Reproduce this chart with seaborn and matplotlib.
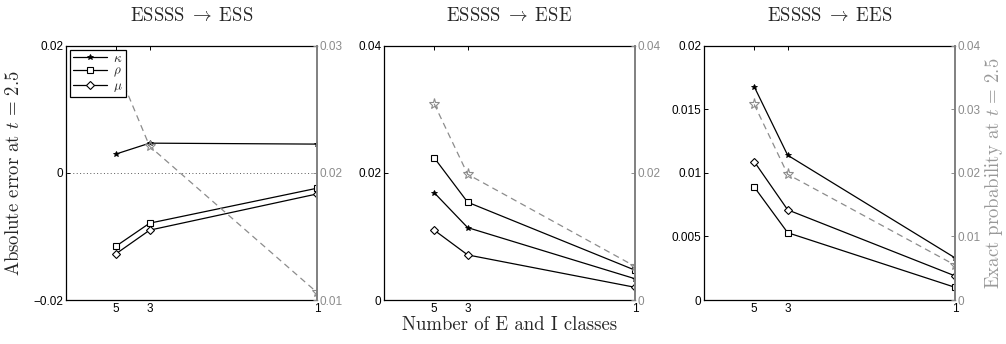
import numpy as np
import pandas as pd
import matplotlib
matplotlib.use("Agg")
import matplotlib.pyplot as plt
import seaborn as sns

# Number of E and I classes used in each reduced model
n_classes = [5, 3, 1]

titles = [r"ESSSS$\;\rightarrow\;$ESS", r"ESSSS$\;\rightarrow\;$ESE",
          r"ESSSS$\;\rightarrow\;$EES"]

# Absolute error at t = 2.5 for each approximation (one list per panel)
kappa_err = [[0.0030, 0.0047, 0.00455],
             [0.0169, 0.0114, 0.00335],
             [0.0168, 0.0114, 0.00332]]
rho_err = [[-0.0115, -0.0079, -0.0024],
           [0.0224, 0.0154, 0.0047],
           [0.0089, 0.0053, 0.0010]]
mu_err = [[-0.0127, -0.0090, -0.0033],
          [0.0110, 0.0071, 0.0020],
          [0.0109, 0.0071, 0.0019]]

# Exact probability at t = 2.5 (right axis)
exact_prob = [[0.0284, 0.0221, 0.0106],
              [0.0309, 0.0198, 0.0053],
              [0.0308, 0.0198, 0.0055]]

left_ylim = [(-0.02, 0.02), (0.0, 0.04), (0.0, 0.02)]
left_yticks = [[-0.02, 0.0, 0.02],
               [0.0, 0.02, 0.04],
               [0.0, 0.005, 0.01, 0.015, 0.02]]
left_yticklabels = [["\u22120.02", "0", "0.02"],
                    ["0", "0.02", "0.04"],
                    ["0", "0.005", "0.01", "0.015", "0.02"]]
right_ylim = [(0.01, 0.03), (0.0, 0.04), (0.0, 0.04)]
right_yticks = [[0.01, 0.02, 0.03],
                [0.0, 0.02, 0.04],
                [0.0, 0.01, 0.02, 0.03, 0.04]]
right_yticklabels = [["0.01", "0.02", "0.03"],
                     ["0", "0.02", "0.04"],
                     ["0", "0.01", "0.02", "0.03", "0.04"]]
xticklabels = ["5", "3", "1"]

sns.set_style("white")
plt.rcParams["mathtext.fontset"] = "cm"
plt.rcParams["font.family"] = ["cmr10", "DejaVu Serif"]
plt.rcParams["axes.unicode_minus"] = False

TICK_FONT = "Liberation Sans"
GREY = "0.55"
LABEL_SIZE = 13.5

fig = plt.figure(figsize=(10.06, 3.44), dpi=100)
lefts = [0.0656, 0.3817, 0.6998]
width, bottom, height = 0.2495, 0.1279, 0.7384

for i in range(3):
    ax = fig.add_axes([lefts[i], bottom, width, height])
    df = pd.DataFrame({
        "n": n_classes,
        "x": [1.0 / n for n in n_classes],
        "kappa": kappa_err[i],
        "rho": rho_err[i],
        "mu": mu_err[i],
        "exact": exact_prob[i],
    })

    if i == 0:
        ax.axhline(0, color="0.35", ls=(0, (1, 2.5)), lw=0.7, zorder=1)

    sns.lineplot(data=df, x="x", y="kappa", ax=ax, color="k", lw=0.9,
                 marker="*", markersize=4, markerfacecolor="k",
                 markeredgecolor="k", markeredgewidth=0.6, label=r"$\kappa$")
    sns.lineplot(data=df, x="x", y="rho", ax=ax, color="k", lw=0.9,
                 marker="s", markersize=4.2, markerfacecolor="white",
                 markeredgecolor="k", markeredgewidth=0.8, label=r"$\rho$")
    sns.lineplot(data=df, x="x", y="mu", ax=ax, color="k", lw=0.9,
                 marker="D", markersize=4.2, markerfacecolor="white",
                 markeredgecolor="k", markeredgewidth=0.8, label=r"$\mu$")
    handles, labels = ax.get_legend_handles_labels()
    if ax.get_legend() is not None:
        ax.get_legend().remove()

    ax.set_xlim(0, 1)
    ax.set_ylim(*left_ylim[i])
    ax.set_xticks(df["x"])
    ax.set_xticklabels(xticklabels, fontfamily=TICK_FONT, fontsize=8.5)
    ax.set_yticks(left_yticks[i])
    ax.set_yticklabels(left_yticklabels[i], fontfamily=TICK_FONT, fontsize=8.5)
    ax.tick_params(axis="both", direction="in", length=3, width=0.7,
                   pad=2, colors="k", top=True)
    ax.set_xlabel("")
    ax.set_ylabel("")
    for s in ["left", "bottom", "top"]:
        ax.spines[s].set_color("k")
        ax.spines[s].set_linewidth(0.9)
    ax.spines["right"].set_visible(False)
    ax.set_title(titles[i], fontsize=LABEL_SIZE, pad=18)

    ax2 = ax.twinx()
    sns.lineplot(data=df, x="x", y="exact", ax=ax2, color=GREY, lw=0.9,
                 linestyle=(0, (5, 3.5)), marker="*", markersize=8,
                 markerfacecolor="none", markeredgecolor=GREY,
                 markeredgewidth=0.8)
    ax2.set_ylim(*right_ylim[i])
    ax2.set_yticks(right_yticks[i])
    ax2.set_yticklabels(right_yticklabels[i], fontfamily=TICK_FONT,
                        fontsize=8.5, color=GREY)
    ax2.tick_params(axis="y", direction="in", length=3, width=0.7, pad=2,
                    colors=GREY)
    ax2.set_ylabel("")
    ax2.set_xlabel("")
    ax2.set_xlim(0, 1)
    for s in ["left", "bottom", "top"]:
        ax2.spines[s].set_visible(False)
    ax2.spines["right"].set_color("0.5")
    ax2.spines["right"].set_linewidth(1.4)

    if i == 0:
        leg = ax2.legend(handles, labels, loc="upper left", fontsize=9.5,
                         handlelength=2.6, handletextpad=0.5,
                         borderaxespad=0.3, borderpad=0.2, labelspacing=0.05,
                         frameon=True, fancybox=False, framealpha=1)
        leg.get_frame().set_edgecolor("k")
        leg.get_frame().set_linewidth(0.9)
    if i == 1:
        ax.set_xlabel("Number of E and I classes", fontsize=LABEL_SIZE,
                      labelpad=1)

mid_y = bottom + height / 2
fig.text(14 / 1006, mid_y, r"Absolute error at $t\,=\,2.5$",
         rotation=90, ha="center", va="center", fontsize=LABEL_SIZE)
fig.text(994 / 1006, mid_y, r"Exact probability at $t\,=\,2.5$",
         rotation=90, ha="center", va="center", fontsize=LABEL_SIZE,
         color="0.6")

fig.savefig("out.png", dpi=100)
